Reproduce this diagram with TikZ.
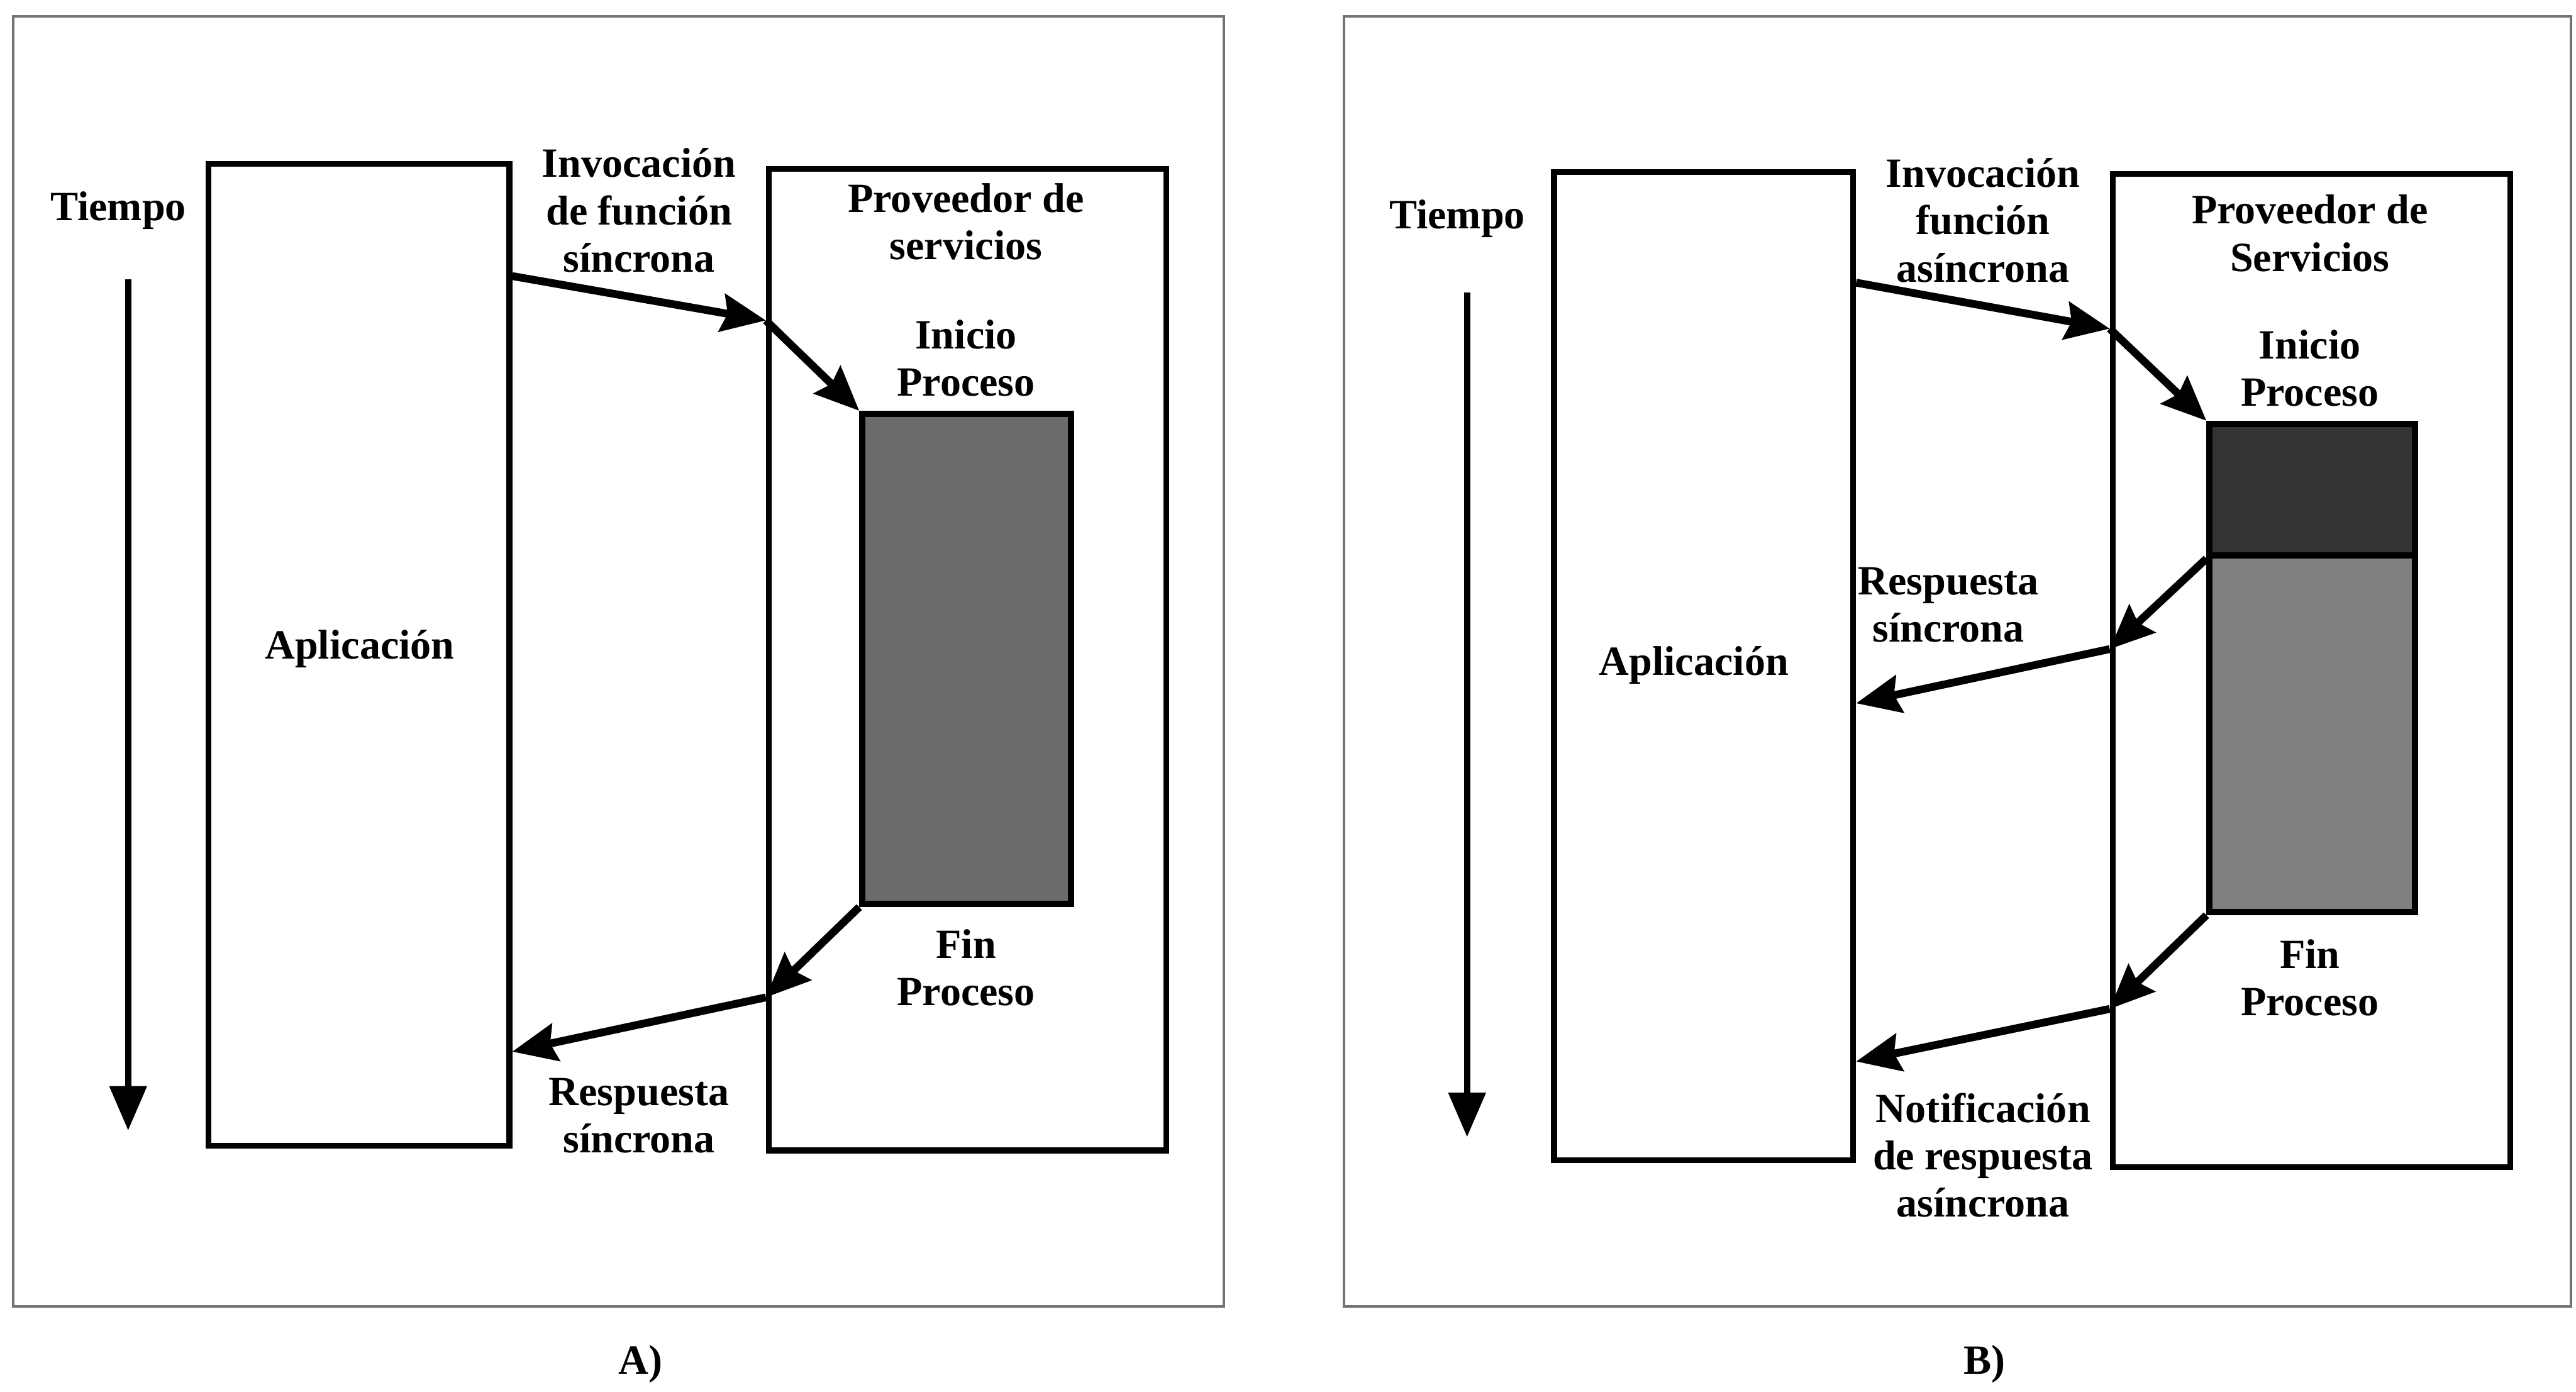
\documentclass[tikz,border=0pt]{standalone}
\usepackage{fontspec}
\setmainfont{Liberation Serif}
\usetikzlibrary{arrows.meta}
\begin{document}
\begin{tikzpicture}[x=0.01cm,y=-0.01cm,
  frame/.style={draw=black!55,line width=0.4pt},
  bigbox/.style={draw=black,line width=1pt,fill=white},
  lbl/.style={font=\bfseries\fontsize{7.2}{8.2}\selectfont,align=center,inner sep=0pt},
  flow/.style={line width=1.35pt,-{Stealth[length=0.27cm,width=0.23cm,inset=0.035cm]}},
  timearrow/.style={line width=1.1pt,-{Triangle[length=0.27cm,width=0.22cm]}}]
\useasboundingbox[fill=white] (0,0) rectangle (1568,847);

% ---------- Panel A ----------
\draw[frame] (8,10) rectangle (745,795);
\node[bigbox,minimum width=1.83cm,minimum height=5.97cm,inner sep=0pt] (appA) at (218.5,398.5) {};
\node[lbl] (appAt) at (219,395) {Aplicación};
\node[bigbox,minimum width=2.42cm,minimum height=5.97cm,inner sep=0pt] (provA) at (589,401.5) {};
\node[draw=black,line width=1.1pt,fill=black!58,minimum width=1.27cm,minimum height=2.98cm,inner sep=0pt] (procA) at (588.5,401) {};
\node[lbl] (tiempoA) at (72,128) {Tiempo};
\coordinate (tA1) at (78,170);
\coordinate (tA2) at (78,688);
\draw[timearrow] (tA1) -- (tA2);
\node[lbl] (provAt) at (588,135) {Proveedor de\\servicios};
\node[lbl] (inicioA) at (588,218) {Inicio\\Proceso};
\node[lbl] (finA) at (588,589) {Fin\\Proceso};
\node[lbl] (invA) at (389,128) {Invocación\\de función\\síncrona};
\node[lbl] (respA) at (389,679) {Respuesta\\síncrona};
\coordinate (aS) at (appA.east |- 0,168);
\coordinate (aM) at (provA.west |- 0,195);
\draw[flow] (aS) -- (aM);
\draw[flow] (aM) -- (procA.north west);
\coordinate (aM2) at (provA.west |- 0,607);
\coordinate (aE2) at (appA.east |- 0,640);
\draw[flow] (procA.south west) -- (aM2);
\draw[flow] (aM2) -- (aE2);
\node[lbl] (capA) at (390,830) {A)};

% ---------- Panel B ----------
\draw[frame] (818,10) rectangle (1565,795);
\node[bigbox,minimum width=1.82cm,minimum height=6.01cm,inner sep=0pt] (appB) at (1037,405.5) {};
\node[lbl] (appBt) at (1031,405) {Aplicación};
\node[bigbox,minimum width=2.42cm,minimum height=6.04cm,inner sep=0pt] (provB) at (1407,408) {};
\node[draw=black,line width=1.1pt,fill=black!80,minimum width=1.25cm,minimum height=0.8cm,inner sep=0pt] (procB1) at (1407.5,298) {};
\node[draw=black,line width=1.1pt,fill=black!50,minimum width=1.25cm,minimum height=2.17cm,inner sep=0pt] (procB2) at (1407.5,446.5) {};
\node[lbl] (tiempoB) at (887,133) {Tiempo};
\coordinate (tB1) at (893,178);
\coordinate (tB2) at (893,692);
\draw[timearrow] (tB1) -- (tB2);
\node[lbl] (provBt) at (1406,142) {Proveedor de\\Servicios};
\node[lbl] (inicioB) at (1406,224) {Inicio\\Proceso};
\node[lbl] (finB) at (1406,595) {Fin\\Proceso};
\node[lbl] (invB) at (1207,134) {Invocación\\función\\asíncrona};
\node[lbl] (respB) at (1186,368) {Respuesta\\síncrona};
\node[lbl] (notB) at (1207,703) {Notificación\\de respuesta\\asíncrona};
\coordinate (bS) at (appB.east |- 0,172);
\coordinate (bM) at (provB.west |- 0,200);
\draw[flow] (bS) -- (bM);
\draw[flow] (bM) -- (procB1.north west);
\coordinate (bM2) at (provB.west |- 0,395);
\coordinate (bE2) at (appB.east |- 0,428);
\draw[flow] (procB1.south west) -- (bM2);
\draw[flow] (bM2) -- (bE2);
\coordinate (bM3) at (provB.west |- 0,614);
\coordinate (bE3) at (appB.east |- 0,646);
\draw[flow] (procB2.south west) -- (bM3);
\draw[flow] (bM3) -- (bE3);
\node[lbl] (capB) at (1208,830) {B)};
\end{tikzpicture}
\end{document}
